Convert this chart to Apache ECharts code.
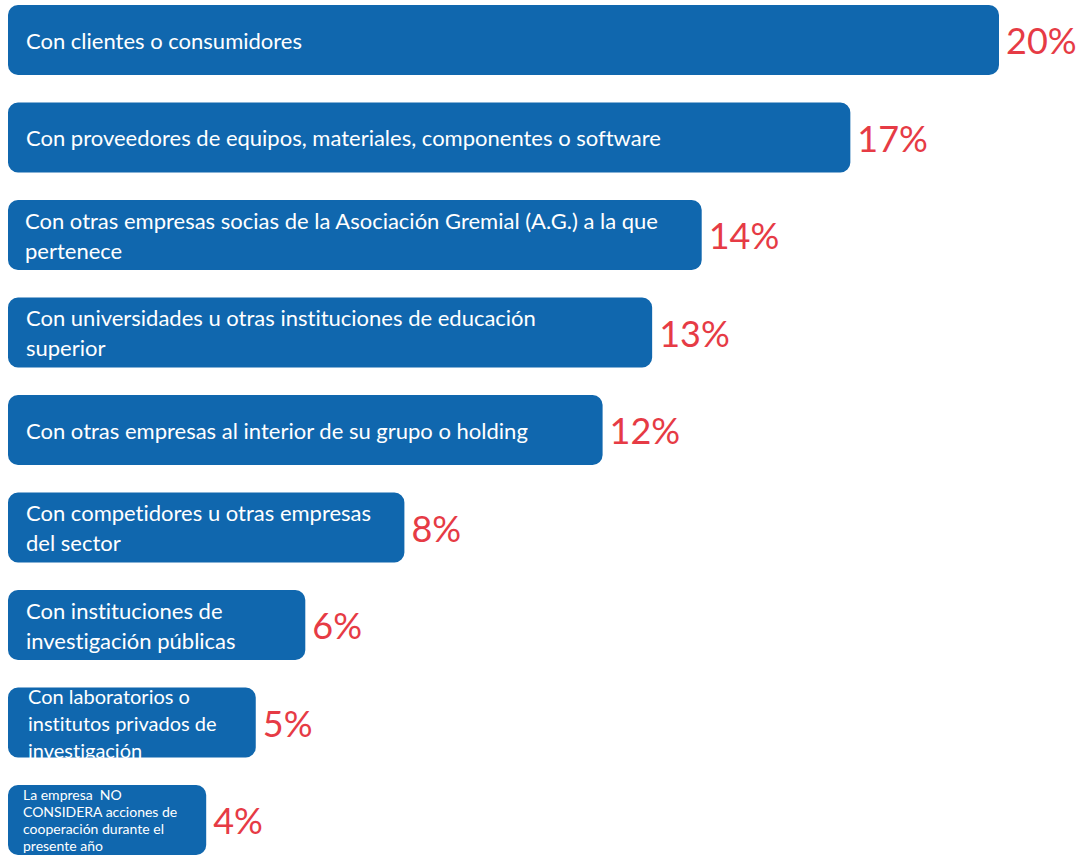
<!DOCTYPE html>
<html>
<head>
<meta charset="utf-8">
<script src="https://cdn.jsdelivr.net/npm/echarts@6/dist/echarts.min.js"></script>
<style>
  html, body { margin: 0; padding: 0; background: #ffffff; }
  #chart { width: 1079px; height: 856px; }
  #chart svg text { font-variant-ligatures: none; font-feature-settings: "liga" 0, "clig" 0; }
</style>
</head>
<body>
<div id="chart"></div>
<script>
// Types of cooperation, top to bottom (line breaks as printed inside the bars)
const categories = [
  'Con clientes o consumidores',
  'Con proveedores de equipos, materiales, componentes o software',
  'Con otras empresas socias de la Asociación Gremial (A.G.) a la que\npertenece',
  'Con universidades u otras instituciones de educación\nsuperior',
  'Con otras empresas al interior de su grupo o holding',
  'Con competidores u otras empresas\ndel sector',
  'Con instituciones de\ninvestigación públicas',
  'Con laboratorios o\ninstitutos privados de\ninvestigación',
  'La empresa  NO\nCONSIDERA acciones de\ncooperación durante el\npresente año'
];

// Share of companies (%)
const values = [20, 17, 14, 13, 12, 8, 6, 5, 4];

// Text size inside each bar (the last two bars use smaller text)
const innerFont = [22, 22, 22, 22, 22, 22, 22, 20, 14];
const innerLine = [30, 30, 30, 30, 30, 30, 30, 27, 17];
const innerPad  = [18, 18, 17, 18, 18, 18, 18, 20, 15];

const BLUE = '#1067ae';
const RED = '#e63b45';
const FONT = 'Lato, "Open Sans", sans-serif';

const chart = echarts.init(document.getElementById('chart'), null, { renderer: 'svg' });

const namedBars = values.map((v, i) => ({
  value: v,
  label: { fontSize: innerFont[i], lineHeight: innerLine[i], distance: innerPad[i] }
}));

chart.setOption({
  animation: false,
  backgroundColor: '#ffffff',
  grid: { left: 8, right: 80, top: 40, bottom: 36, containLabel: false },
  xAxis: {
    type: 'value',
    min: 0,
    max: 20,
    show: false
  },
  yAxis: {
    type: 'category',
    data: categories,
    inverse: true,
    boundaryGap: false,
    show: false
  },
  series: [
    {
      type: 'bar',
      data: namedBars,
      barWidth: 70,
      itemStyle: { color: BLUE, borderRadius: 10 },
      label: {
        show: true,
        position: 'insideLeft',
        color: '#ffffff',
        fontFamily: FONT,
        formatter: p => categories[p.dataIndex]
      }
    },
    {
      type: 'bar',
      data: values,
      barWidth: 70,
      barGap: '-100%',
      itemStyle: { color: 'rgba(0,0,0,0)' },
      silent: true,
      label: {
        show: true,
        position: 'right',
        distance: 7,
        color: RED,
        fontFamily: FONT,
        fontSize: 36,
        formatter: p => p.value + '%'
      }
    }
  ]
});
</script>
</body>
</html>
